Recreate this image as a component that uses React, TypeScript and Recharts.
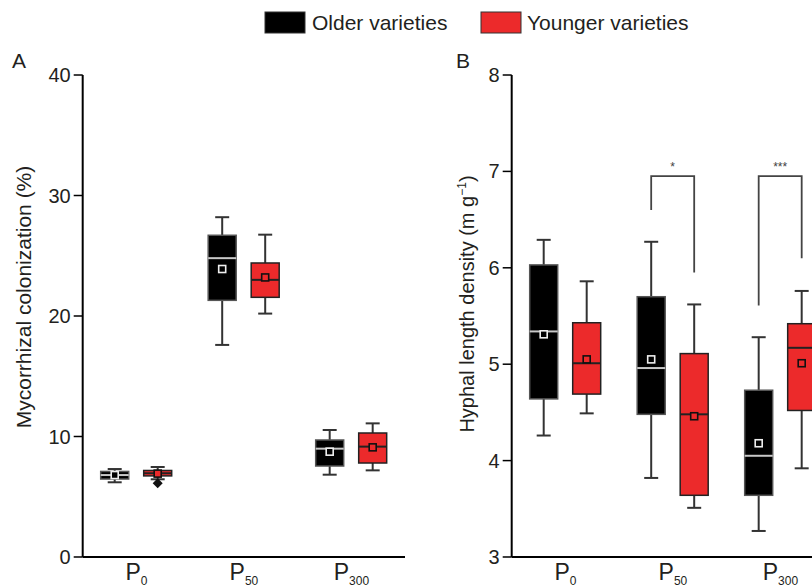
import React from 'react';
import { ComposedChart, Bar, XAxis, YAxis } from 'recharts';

const FONT = '"Liberation Sans", Arial, Helvetica, sans-serif';
const INK = '#231f20';
const RED = '#ec2a2b';

const categories = ['P0', 'P50', 'P300'];
const seriesNames = ['Older varieties', 'Younger varieties'];

// A: mycorrhizal colonization (%)
const colOldMin = [6.2, 17.6, 6.83];
const colOldQ1 = [6.47, 21.3, 7.55];
const colOldMedian = [6.8, 24.8, 8.99];
const colOldMean = [6.8, 23.9, 8.74];
const colOldQ3 = [7.1, 26.7, 9.71];
const colOldMax = [7.3, 28.2, 10.54];
const colOldOutliers: number[][] = [[], [], []];

const colYoungMin = [6.45, 20.2, 7.19];
const colYoungQ1 = [6.73, 21.55, 7.8];
const colYoungMedian = [6.95, 23.0, 9.16];
const colYoungMean = [6.92, 23.2, 9.1];
const colYoungQ3 = [7.18, 24.4, 10.29];
const colYoungMax = [7.47, 26.75, 11.09];
const colYoungOutliers: number[][] = [[6.12], [], []];

const colTicks = [0, 10, 20, 30, 40];

// B: hyphal length density (m g-1)
const hldOldMin = [4.26, 3.82, 3.27];
const hldOldQ1 = [4.64, 4.48, 3.64];
const hldOldMedian = [5.34, 4.96, 4.05];
const hldOldMean = [5.31, 5.05, 4.18];
const hldOldQ3 = [6.03, 5.7, 4.73];
const hldOldMax = [6.29, 6.27, 5.28];

const hldYoungMin = [4.49, 3.51, 3.92];
const hldYoungQ1 = [4.69, 3.64, 4.52];
const hldYoungMedian = [5.01, 4.48, 5.17];
const hldYoungMean = [5.05, 4.46, 5.01];
const hldYoungQ3 = [5.43, 5.11, 5.42];
const hldYoungMax = [5.86, 5.62, 5.76];

const hldTicks = [3, 4, 5, 6, 7, 8];

// significance brackets in B
const sigLabels = ['', '*', '***'];
const sigTop = [0, 6.95, 6.95];
const sigLeftFoot = [0, 6.6, 5.61];
const sigRightFoot = [0, 5.95, 6.1];

const BAR = 28;
const GAP = 15;

type Stats = { min: number; q1: number; median: number; mean: number; q3: number; max: number; out: number[] };

const pick = (i: number, mn: number[], q1: number[], md: number[], me: number[], q3: number[], mx: number[], out?: number[][]): Stats => ({
  min: mn[i], q1: q1[i], median: md[i], mean: me[i], q3: q3[i], max: mx[i], out: out ? out[i] : [],
});

const colData = categories.map((cat, i) => ({
  cat,
  older: pick(i, colOldMin, colOldQ1, colOldMedian, colOldMean, colOldQ3, colOldMax, colOldOutliers),
  younger: pick(i, colYoungMin, colYoungQ1, colYoungMedian, colYoungMean, colYoungQ3, colYoungMax, colYoungOutliers),
}));

const hldData = categories.map((cat, i) => ({
  cat,
  older: pick(i, hldOldMin, hldOldQ1, hldOldMedian, hldOldMean, hldOldQ3, hldOldMax),
  younger: pick(i, hldYoungMin, hldYoungQ1, hldYoungMedian, hldYoungMean, hldYoungQ3, hldYoungMax),
  sig: sigLabels[i] ? { label: sigLabels[i], top: sigTop[i], left: sigLeftFoot[i], right: sigRightFoot[i] } : null,
}));

const BoxShape = (props: any) => {
  const { x, y, width, height, payload, which, dark } = props;
  const s: Stats = payload[which];
  const top = Math.min(y, y + height);
  const h = Math.abs(height);
  const ppu = h / (s.max - s.min);
  const py = (v: number) => top + (s.max - v) * ppu;
  const cx = x + width / 2;
  const whisker = '#333';
  const sig = which === 'younger' ? payload.sig : null;
  const ox = cx - (BAR + GAP);
  return (
    <g>
      <line x1={cx} x2={cx} y1={py(s.max)} y2={py(s.min)} stroke={whisker} strokeWidth={2} />
      <line x1={cx - 7} x2={cx + 7} y1={py(s.max)} y2={py(s.max)} stroke={whisker} strokeWidth={2} />
      <line x1={cx - 7} x2={cx + 7} y1={py(s.min)} y2={py(s.min)} stroke={whisker} strokeWidth={2} />
      <rect
        x={cx - BAR / 2}
        y={py(s.q3)}
        width={BAR}
        height={py(s.q1) - py(s.q3)}
        fill={dark ? '#000' : RED}
        stroke={dark ? '#555' : '#222'}
        strokeWidth={1.5}
      />
      <line x1={cx - BAR / 2} x2={cx + BAR / 2} y1={py(s.median)} y2={py(s.median)} stroke={dark ? '#c8c8c8' : '#222'} strokeWidth={2} />
      <rect x={cx - 3.5} y={py(s.mean) - 3.5} width={7} height={7} fill={dark ? '#000' : RED} stroke={dark ? '#eee' : '#111'} strokeWidth={1.6} />
      {s.out.map((o, k) => (
        <polygon key={k} points={`${cx},${py(o) - 5} ${cx + 5},${py(o)} ${cx},${py(o) + 5} ${cx - 5},${py(o)}`} fill="#111" />
      ))}
      {sig && (
        <g>
          <polyline
            points={`${ox},${py(sig.left)} ${ox},${py(sig.top)} ${cx},${py(sig.top)} ${cx},${py(sig.right)}`}
            fill="none"
            stroke="#444"
            strokeWidth={1.8}
          />
          <text x={(ox + cx) / 2} y={py(sig.top) - 5} textAnchor="middle" fontSize={12} fill="#444" fontFamily={FONT}>
            {sig.label}
          </text>
        </g>
      )}
    </g>
  );
};

const CatTick = (props: any) => {
  const { x, y, payload } = props;
  const v = String(payload.value);
  return (
    <text x={x} y={y + 23} textAnchor="middle" fontSize={23} fill={INK} fontFamily={FONT}>
      <tspan>{v.slice(0, 1)}</tspan>
      <tspan fontSize={12} dy={5}>{v.slice(1)}</tspan>
    </text>
  );
};

const Panel = ({ data, ticks, axisWidth, width }: { data: any[]; ticks: number[]; axisWidth: number; width: number }) => (
  <ComposedChart width={width} height={587} data={data} margin={{ top: 75, right: 0, bottom: 0, left: 0 }} barSize={BAR} barGap={GAP}>
    <XAxis
      dataKey="cat"
      height={30}
      tickLine={false}
      tickSize={0}
      tickMargin={0}
      axisLine={{ stroke: '#000', strokeWidth: 2 }}
      tick={<CatTick />}
    />
    <YAxis
      width={axisWidth}
      type="number"
      domain={[ticks[0], ticks[ticks.length - 1]]}
      ticks={ticks}
      interval={0}
      tickSize={9}
      tickMargin={3}
      axisLine={{ stroke: '#000', strokeWidth: 2 }}
      tickLine={{ stroke: '#000', strokeWidth: 1.5 }}
      tick={{ fontSize: 20, fill: INK, fontFamily: FONT }}
    />
    <Bar
      dataKey={(d: any) => [d.older.min, d.older.max]}
      name={seriesNames[0]}
      isAnimationActive={false}
      shape={(p: any) => <BoxShape {...p} which="older" dark />}
    />
    <Bar
      dataKey={(d: any) => [d.younger.min, d.younger.max]}
      name={seriesNames[1]}
      isAnimationActive={false}
      shape={(p: any) => <BoxShape {...p} which="younger" />}
    />
  </ComposedChart>
);

export default function App() {
  return (
    <div style={{ position: 'fixed', left: 0, top: 0, width: 812, height: 587, overflow: 'hidden', background: '#fff' }}>
      <div style={{ position: 'absolute', left: 0, top: 0 }}>
        <Panel data={colData} ticks={colTicks} axisWidth={82.7} width={405.2} />
      </div>
      <div style={{ position: 'absolute', left: 420, top: 0 }}>
        <Panel data={hldData} ticks={hldTicks} axisWidth={91.7} width={414.2} />
      </div>
      <svg width={812} height={587} style={{ position: 'absolute', left: 0, top: 0, pointerEvents: 'none' }} fontFamily={FONT}>
        <rect x={265} y={12} width={40} height={21} fill="#000" stroke="#333" strokeWidth={1} />
        <text x={312} y={30} fontSize={21} fill={INK}>{seriesNames[0]}</text>
        <rect x={481} y={12} width={40} height={21} fill={RED} stroke="#333" strokeWidth={1} />
        <text x={527} y={30} fontSize={21} fill={INK}>{seriesNames[1]}</text>

        <text x={12} y={68} fontSize={21} fill={INK}>A</text>
        <text x={456} y={68} fontSize={21} fill={INK}>B</text>

        <text transform="translate(31,297) rotate(-90)" textAnchor="middle" fontSize={21} fill={INK}>
          Mycorrhizal colonization (%)
        </text>
        <text transform="translate(474,304) rotate(-90)" textAnchor="middle" fontSize={20} fill={INK}>
          <tspan>Hyphal length density (m g</tspan>
          <tspan fontSize={12} dy={-8}>−1</tspan>
          <tspan dy={8}>)</tspan>
        </text>
      </svg>
    </div>
  );
}
